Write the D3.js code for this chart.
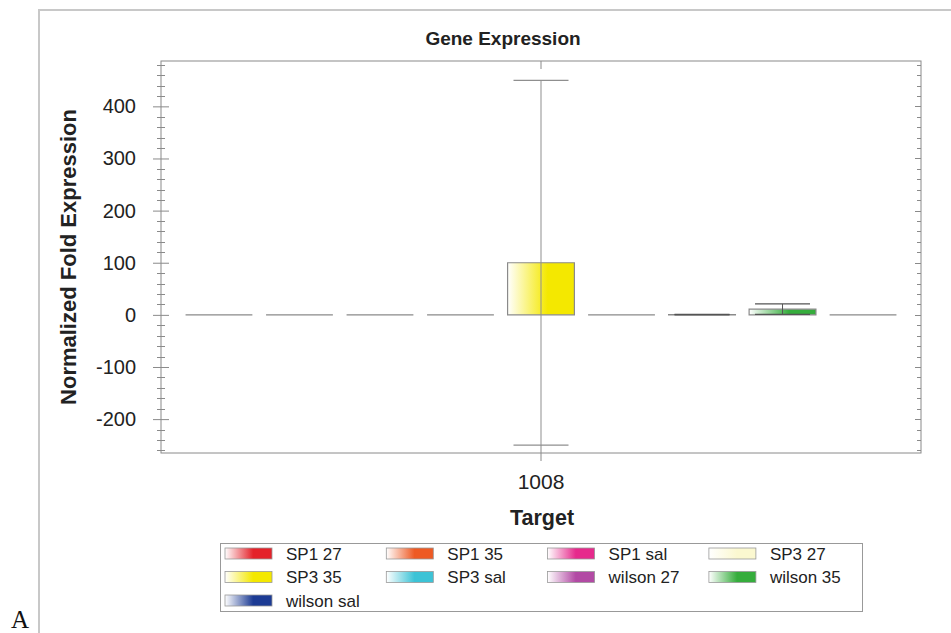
<!DOCTYPE html>
<html>
<head>
<meta charset="utf-8">
<script src="https://cdn.jsdelivr.net/npm/d3@7"></script>
<style>
  html, body { margin: 0; padding: 0; background: #fff; }
  svg { display: block; font-family: "Liberation Sans", Arial, sans-serif; }
</style>
</head>
<body>
<svg id="chart" width="951" height="633"></svg>
<script>
// Targets on the x axis
const targets = ["1008"];
// Samples (one bar each within the target group)
const samples = ["SP1 27", "SP1 35", "SP1 sal", "SP3 27", "SP3 35", "SP3 sal", "wilson 27", "wilson 35", "wilson sal"];
// Normalized fold expression per sample
const foldValues = [0, 0, 0, 0, 100, 0, 0.6, 11, 0];
// Error (+/-) per sample
const foldErrors = [0, 0, 0, 0, 350, 0, 0.5, 10, 0];
// Sample colours (gradient end colour)
const sampleColors = ["#e4222a", "#ee5a24", "#e62a8c", "#fbf8d0", "#f4e800", "#3cc3d6", "#b24aa4", "#35ad3c", "#1c3b94"];
// Y axis ticks
const yTicks = [-200, -100, 0, 100, 200, 300, 400];

const svg = d3.select("#chart");
const plot = { left: 161, right: 921, top: 61, bottom: 453 };

// Outer panel frame
svg.append("path")
  .attr("d", "M39,633 V10 H951")
  .attr("fill", "none").attr("stroke", "#c8c8c8").attr("stroke-width", 2);

svg.append("text").attr("x", 11).attr("y", 628)
  .attr("font-family", "Liberation Serif, serif").attr("font-size", 25).attr("fill", "#111")
  .text("A");

// Gradients: white on the left fading to the sample colour
const defs = svg.append("defs");
samples.forEach((s, i) => {
  const g = defs.append("linearGradient").attr("id", "grad" + i)
    .attr("x1", "0%").attr("x2", "100%").attr("y1", "0%").attr("y2", "0%");
  g.append("stop").attr("offset", "0%").attr("stop-color", "#ffffff");
  g.append("stop").attr("offset", "60%").attr("stop-color", sampleColors[i]);
  g.append("stop").attr("offset", "100%").attr("stop-color", sampleColors[i]);
});

const y = d3.scaleLinear().domain([-265, 487]).range([plot.bottom, plot.top]);
const x0 = d3.scaleBand().domain(targets).range([plot.left, plot.right]);
const x1 = d3.scaleBand().domain(samples).range([0, x0.bandwidth()])
  .paddingInner(0.17).paddingOuter(0.305);

// Plot frame
svg.append("rect")
  .attr("x", plot.left).attr("y", plot.top)
  .attr("width", plot.right - plot.left).attr("height", plot.bottom - plot.top)
  .attr("fill", "none").attr("stroke", "#8a8a8a").attr("stroke-width", 1);

// Minor ticks every 20
const minor = d3.range(-260, 487, 20).filter(v => v % 100 !== 0);
const tickG = svg.append("g").attr("stroke", "#8a8a8a").attr("stroke-width", 1);
minor.forEach(v => {
  const yy = Math.round(y(v)) + 0.5;
  tickG.append("line").attr("x1", plot.left - 4).attr("x2", plot.left + 4).attr("y1", yy).attr("y2", yy);
  tickG.append("line").attr("x1", plot.right - 4).attr("x2", plot.right).attr("y1", yy).attr("y2", yy);
});

// Left axis with major crossing ticks
const yAxis = svg.append("g").attr("transform", `translate(${plot.left},0)`)
  .call(d3.axisLeft(y).tickValues(yTicks).tickFormat(v => String(v)).tickSize(8).tickPadding(17));
yAxis.select(".domain").remove();
yAxis.selectAll(".tick line").attr("stroke", "#8a8a8a").attr("x2", 8).attr("x1", -8);
yAxis.selectAll(".tick text").attr("font-size", 20).attr("fill", "#222")
  .attr("font-family", "Liberation Sans, Arial, sans-serif");
yTicks.forEach(v => {
  const yy = Math.round(y(v)) + 0.5;
  tickG.append("line").attr("x1", plot.right - 6).attr("x2", plot.right).attr("y1", yy).attr("y2", yy);
});

// Category ticks (top and bottom)
const cx = x0(targets[0]) + x0.bandwidth() / 2;
tickG.append("line").attr("x1", cx).attr("x2", cx).attr("y1", plot.top).attr("y2", plot.top + 8);
tickG.append("line").attr("x1", cx).attr("x2", cx).attr("y1", plot.bottom - 8).attr("y2", plot.bottom + 8);

const xAxis = svg.append("g").attr("transform", `translate(0,${plot.bottom})`)
  .call(d3.axisBottom(x0).tickSize(0).tickPadding(21));
xAxis.select(".domain").remove();
xAxis.selectAll(".tick text").attr("font-size", 21).attr("fill", "#222")
  .attr("font-family", "Liberation Sans, Arial, sans-serif");

// Bars
const group = svg.append("g").attr("transform", `translate(${x0(targets[0])},0)`);
samples.forEach((s, i) => {
  const bx = x1(s), bw = x1.bandwidth();
  const y0 = y(0), yv = y(foldValues[i]);
  group.append("path")
    .attr("d", `M${bx},${y0} H${bx + bw} V${yv} H${bx} Z`)
    .attr("fill", `url(#grad${i})`)
    .attr("stroke", "#8a8a8a").attr("stroke-width", 1.2);
});

// Error bars
samples.forEach((s, i) => {
  const e = foldErrors[i];
  if (!e) return;
  const c = x1(s) + x1.bandwidth() / 2;
  const hi = y(foldValues[i] + e), lo = y(foldValues[i] - e);
  const cap = 27.5;
  const col = e > 100 ? "#8f8f8f" : "#555";
  group.append("line").attr("x1", c).attr("x2", c).attr("y1", hi).attr("y2", lo)
    .attr("stroke", col).attr("stroke-width", 1);
  [hi, lo].forEach(yy => {
    group.append("line").attr("x1", c - cap).attr("x2", c + cap).attr("y1", yy).attr("y2", yy)
      .attr("stroke", col).attr("stroke-width", 1.2);
  });
});

// Titles
svg.append("text").attr("x", 503).attr("y", 45).attr("text-anchor", "middle")
  .attr("font-size", 19).attr("font-weight", "bold").attr("fill", "#222").text("Gene Expression");
svg.append("text").attr("x", 542).attr("y", 525).attr("text-anchor", "middle")
  .attr("font-size", 21.5).attr("font-weight", "bold").attr("fill", "#222").text("Target");
svg.append("text")
  .attr("transform", `translate(76,${(plot.top + plot.bottom) / 2}) rotate(-90)`)
  .attr("text-anchor", "middle")
  .attr("font-size", 22).attr("font-weight", "bold").attr("fill", "#222").text("Normalized Fold Expression");

// Legend
const legend = svg.append("g");
legend.append("rect").attr("x", 220.5).attr("y", 543.5).attr("width", 642).attr("height", 68)
  .attr("fill", "#fff").attr("stroke", "#999");
samples.forEach((s, i) => {
  const col = i % 4, row = Math.floor(i / 4);
  const lx = 225 + col * 161.3, ly = 548 + row * 23.5;
  legend.append("rect").attr("x", lx).attr("y", ly).attr("width", 47).attr("height", 11)
    .attr("fill", `url(#grad${i})`).attr("stroke", "#999").attr("stroke-width", 0.8);
  legend.append("text").attr("x", lx + 61).attr("y", ly + 11.5)
    .attr("font-size", 17).attr("fill", "#222").text(s);
});
</script>
</body>
</html>
